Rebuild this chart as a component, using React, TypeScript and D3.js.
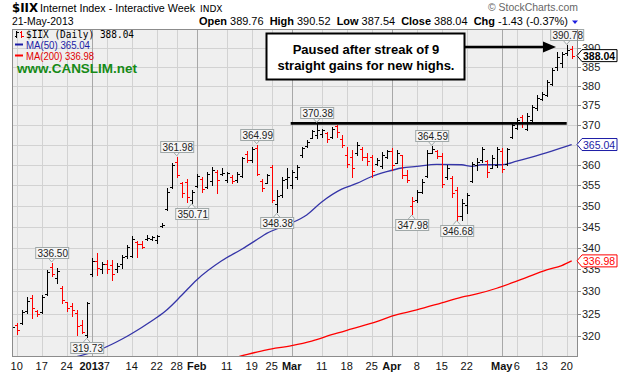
import React from "react";
import * as d3 from "d3";

// trading calendar (weekends and market holidays skipped)
const holidays = ["2012-12-25", "2013-01-01", "2013-01-21", "2013-02-18", "2013-03-29"];
const fmtDay = d3.timeFormat("%Y-%m-%d");
const tradingDays = d3.timeDay
  .range(new Date(2012, 11, 7), new Date(2013, 4, 22))
  .filter((d) => d.getDay() % 6 !== 0)
  .map(fmtDay)
  .filter((k) => !holidays.includes(k));

// $IIX daily OHLC, Dec 7 2012 .. May 21 2013
const opens = [
  320.9, 322.4, 322.9, 325.5, 328.5, 325.6, 325.3, 329.5, 335.5, 333.0, 330.8, 327.5, 326.8, 325.2, 322.5, 320.2,
  334.0, 337.0, 335.2, 336.3, 336.0, 335.0, 336.3, 338.0, 338.2, 341.3, 341.0, 342.0, 342.1, 341.8, 345.1, 349.3, 354.6, 360.8, 355.5, 355.8, 351.3,
  354.9, 356.6, 354.6, 356.0, 358.2, 357.7, 356.2, 357.1, 356.2, 357.3, 362.6, 361.3, 364.2, 356.0, 355.6, 359.5, 350.5, 352.5, 356.5,
  355.0, 357.0, 362.3, 364.7, 366.8, 367.5, 367.6, 368.0, 367.0, 369.6, 366.5, 362.5, 362.0, 362.8, 363.8, 362.0, 362.0, 360.3, 359.6, 362.0,
  363.5, 360.5, 362.3, 357.4, 350.0, 351.4, 353.4, 357.3, 363.0, 363.4, 362.2, 357.0, 356.8, 353.8, 347.6, 350.2, 356.0, 360.0, 361.2, 360.9, 359.3, 360.0,
  363.5, 360.2, 367.0, 369.2, 372.0, 369.0, 371.2, 374.2, 376.6, 377.6, 380.6, 385.0, 386.0, 388.7, 389.76,
];
const highs = [
  322.6, 322.9, 325.8, 328.7, 329.2, 325.9, 329.2, 334.9, 336.5, 335.3, 331.1, 327.7, 327.3, 325.8, 323.6, 327.7,
  337.6, 338.8, 336.8, 337.2, 337.2, 336.5, 338.4, 340.7, 342.7, 341.5, 341.5, 343.1, 342.8, 343.1, 345.8, 354.2, 360.4, 361.98, 355.8, 356.6, 353.8,
  357.8, 357.1, 358.3, 359.5, 358.7, 359.1, 358.2, 357.4, 358.3, 362.0, 363.3, 364.5, 364.99, 356.6, 357.8, 359.9, 353.8, 357.1, 359.1,
  358.7, 359.9, 364.5, 366.2, 368.7, 370.38, 368.9, 368.3, 369.5, 370.0, 367.4, 364.5, 363.7, 365.7, 364.5, 362.8, 362.4, 361.6, 363.2, 363.7,
  364.1, 363.7, 362.4, 358.7, 352.2, 353.8, 356.6, 363.7, 364.59, 363.7, 362.8, 359.9, 357.2, 354.6, 351.6, 353.0, 360.8, 361.6, 364.5, 361.2, 362.4, 364.5,
  364.1, 364.1, 370.8, 371.7, 372.5, 373.0, 375.1, 377.7, 378.4, 381.6, 384.7, 389.1, 389.1, 390.78, 390.52,
];
const lows = [
  320.4, 320.5, 322.7, 325.2, 324.0, 324.4, 325.1, 329.2, 333.4, 331.9, 327.3, 325.5, 324.4, 320.3, 320.7, 319.73,
  333.4, 333.8, 334.1, 334.1, 332.6, 334.5, 335.3, 337.6, 337.9, 337.9, 339.9, 341.9, 341.9, 341.2, 344.9, 349.0, 354.3, 357.0, 352.2, 351.0, 350.71,
  354.6, 353.4, 354.3, 355.0, 353.0, 357.5, 355.8, 355.4, 355.8, 357.0, 360.8, 360.8, 357.4, 353.5, 355.4, 351.0, 348.38, 352.2, 354.2,
  354.2, 356.6, 362.0, 364.5, 366.6, 366.6, 367.0, 365.8, 366.6, 367.0, 364.5, 359.5, 357.0, 362.4, 361.2, 360.0, 357.0, 360.0, 359.1, 361.6,
  358.7, 360.4, 356.7, 355.8, 347.98, 351.0, 353.0, 357.0, 362.9, 361.6, 354.6, 356.6, 352.2, 346.68, 346.7, 348.3, 355.8, 358.7, 360.8, 357.0, 359.1, 359.5,
  358.3, 360.0, 366.6, 368.9, 369.5, 368.7, 370.8, 373.8, 376.4, 377.3, 380.3, 384.2, 385.1, 388.3, 387.54,
];
const closes = [
  322.1, 321.3, 325.4, 327.8, 326.3, 325.0, 328.8, 334.5, 334.0, 334.7, 328.0, 326.3, 325.8, 322.3, 321.0, 327.3,
  336.9, 335.3, 336.2, 335.0, 334.0, 335.8, 337.9, 340.2, 342.2, 340.8, 340.2, 342.4, 342.6, 342.9, 345.5, 353.2, 359.9, 357.5, 353.0, 352.0, 353.2,
  357.3, 354.0, 357.6, 358.8, 356.2, 357.9, 358.0, 356.0, 357.8, 361.6, 361.2, 364.0, 357.8, 354.3, 357.4, 351.5, 352.3, 356.3, 356.9,
  358.3, 359.5, 364.1, 365.8, 368.4, 368.6, 368.8, 366.5, 369.0, 368.2, 365.0, 360.3, 359.3, 364.8, 361.8, 361.0, 358.5, 361.3, 362.5, 363.3,
  360.0, 363.0, 357.5, 356.3, 351.2, 353.3, 355.8, 362.8, 364.0, 362.2, 355.2, 359.3, 353.0, 347.5, 350.7, 352.5, 360.3, 360.8, 363.8, 358.3, 361.6, 363.9,
  359.0, 363.8, 370.1, 371.2, 370.5, 372.2, 374.5, 377.0, 378.0, 381.0, 384.2, 387.8, 388.6, 389.47, 388.04,
];

// moving averages
const ma50Days = [
  "2012-12-07", "2012-12-18", "2012-12-27", "2012-12-31", "2013-01-04", "2013-01-10", "2013-01-16", "2013-01-22",
  "2013-01-24", "2013-01-29", "2013-02-01", "2013-02-08", "2013-02-14", "2013-02-20", "2013-02-22", "2013-02-28",
  "2013-03-06", "2013-03-11", "2013-03-15", "2013-03-20", "2013-03-25", "2013-03-28", "2013-04-03", "2013-04-08",
  "2013-04-12", "2013-04-19", "2013-04-23", "2013-04-25", "2013-05-01", "2013-05-06", "2013-05-09", "2013-05-15", "2013-05-21",
];
const ma50 = [
  312.9, 314.3, 315.5, 316.1, 317.2, 319.3, 321.9, 324.1, 325.8, 329.1, 332.6, 337.0, 339.7, 341.9, 343.4, 345.4,
  347.8, 350.9, 354.0, 355.4, 357.1, 358.3, 359.2, 359.6, 360.1, 360.0, 359.6, 360.0, 360.0, 360.9, 361.9, 363.4, 365.04,
];
const ma200Days = [
  "2013-01-31", "2013-02-13", "2013-02-22", "2013-03-01", "2013-03-07", "2013-03-13", "2013-03-19", "2013-03-26",
  "2013-04-01", "2013-04-08", "2013-04-15", "2013-04-19", "2013-04-24", "2013-04-30", "2013-05-03", "2013-05-08",
  "2013-05-14", "2013-05-17", "2013-05-21",
];
const ma200 = [
  313.1, 315.4, 317.0, 317.9, 318.9, 320.3, 321.6, 323.2, 324.4, 325.8, 327.4, 328.7, 329.4, 330.7, 331.9, 333.2,
  334.9, 335.9, 336.98,
];

// x axis
const tickDays = [
  "2012-12-10", "2012-12-17", "2012-12-24", "2013-01-02", "2013-01-07", "2013-01-14", "2013-01-22", "2013-01-28",
  "2013-02-01", "2013-02-11", "2013-02-19", "2013-02-25", "2013-03-01", "2013-03-11", "2013-03-18", "2013-03-25",
  "2013-04-01", "2013-04-08", "2013-04-15", "2013-04-22", "2013-05-01", "2013-05-06", "2013-05-13", "2013-05-20",
];
const tickLabels = ["10", "17", "24", "2013", "7", "14", "22", "28", "Feb", "11", "19", "25", "Mar", "11", "18", "25", "Apr", "8", "15", "22", "May", "6", "13", "20"];
const monthStarts = ["2013-01-02", "2013-02-01", "2013-03-01", "2013-04-01", "2013-05-01"];
const priceTicks = [320, 325, 330, 335, 340, 345, 350, 355, 360, 365, 370, 375, 380, 385, 390];

// high / low callouts
const calloutDays = ["2012-12-19", "2012-12-31", "2013-01-28", "2013-01-31", "2013-02-20", "2013-02-26", "2013-03-08", "2013-04-05", "2013-04-11", "2013-04-18", "2013-05-20"];
const calloutSide = ["high", "low", "high", "low", "high", "low", "high", "low", "high", "low", "high"];

const resistance = 370.38;
const resistanceFrom = "2013-03-01";
const resistanceTo = "2013-05-20";
const noteLines = ["Paused after streak of 9", "straight gains for new highs."];

const SANS = "'Liberation Sans', Arial, sans-serif";
const VERD = "'DejaVu Sans', Verdana, sans-serif";
const MONO = "'DejaVu Sans Mono', monospace";
const BLUE = "#1c1ca6";
const RED = "#ff0000";

const plot = { left: 12, right: 578, top: 29.3, bottom: 356.7 };

export default function App() {
  const x = d3.scalePoint<string>().domain(tradingDays).range([11.7, 571.7]);
  const y = d3.scaleLog().domain([315.5, 395.13]).range([plot.bottom, plot.top]);
  const px = (k: string) => Math.round(x(k)!) + 0.5;
  const py = (v: number) => Math.round(y(v)) + 0.5;
  const f2 = (v: number) => v.toFixed(2);

  const n = closes.length;
  const last = n - 1;
  const chg = closes[last] - closes[last - 1];
  const pct = (chg / closes[last - 1]) * 100;
  const ma50Last = ma50[ma50.length - 1];
  const ma200Last = ma200[ma200.length - 1];

  const maLine = d3
    .line<[string, number]>()
    .x((d) => x(d[0])!)
    .y((d) => y(d[1]))
    .curve(d3.curveMonotoneX);

  const tag = (v: number, color: string, bold: boolean) => {
    const cy = y(v);
    return (
      <g key={color}>
        <path
          d={`M577,${cy} L582,${cy - 6} L617,${cy - 6} L617,${cy + 6} L582,${cy + 6} Z`}
          fill="#fff"
          stroke={color}
        />
        <text x={583} y={cy + 4} fontSize={10.5} fontWeight={bold ? "bold" : "normal"} fill={bold ? "#000" : color} fontFamily={SANS}>
          {f2(v)}
        </text>
      </g>
    );
  };

  // axis labels hidden under a value tag are not drawn (as on the original)
  const axisLabels = priceTicks.filter((v) => Math.abs(y(v) - y(ma50Last)) > 3);

  const stats: [string, string][] = [
    ["Open", f2(opens[last])],
    ["High", f2(highs[last])],
    ["Low", f2(lows[last])],
    ["Close", f2(closes[last])],
    ["Chg", `${chg.toFixed(2)} (${pct.toFixed(2)}%)`],
  ];

  return (
    <svg width={620} height={374} style={{ position: "absolute", left: 0, top: 0, background: "#fff" }} fontFamily={SANS}>
      <defs>
        <clipPath id="plotClip">
          <rect x={plot.left} y={plot.top} width={plot.right - plot.left} height={plot.bottom - plot.top} />
        </clipPath>
      </defs>

      {/* header */}
      <text x={12} y={12} fontFamily={VERD} fontWeight="bold" fontSize={12} textLength={26} lengthAdjust="spacingAndGlyphs">$IIX</text>
      <text x={40} y={12} fontSize={11} textLength={155} lengthAdjust="spacingAndGlyphs">Internet Index - Interactive Week</text>
      <text x={200} y={12} fontFamily={VERD} fontSize={9} textLength={22.5} lengthAdjust="spacingAndGlyphs">INDX</text>
      <text x={488} y={11} fontSize={10.5} fill="#666" textLength={90} lengthAdjust="spacingAndGlyphs">© StockCharts.com</text>
      <text x={12} y={24.5} fontSize={10.5} textLength={61.5} lengthAdjust="spacingAndGlyphs">21-May-2013</text>
      <text x={199} y={24.5} fontSize={11} style={{ whiteSpace: "pre" }} textLength={369} lengthAdjust="spacingAndGlyphs">
        {stats.map(([k, v], i) => (
          <tspan key={k}>
            <tspan fontWeight="bold">{k}</tspan>
            {" " + v + (i < stats.length - 1 ? "  " : "")}
          </tspan>
        ))}
      </text>
      <path d="M572,20.5 L578,20.5 L575,24 Z" fill="#2020e0" />

      {/* plot background and grid */}
      <rect x={plot.left} y={plot.top} width={plot.right - plot.left} height={plot.bottom - plot.top} fill="#efefef" />
      {priceTicks.map((v) => (
        <line key={v} x1={plot.left} x2={plot.right} y1={py(v)} y2={py(v)} stroke="#d2d2d2" shapeRendering="crispEdges" />
      ))}
      {tickDays.map((k) => (
        <line
          key={k}
          x1={px(k)}
          x2={px(k)}
          y1={plot.top}
          y2={plot.bottom}
          stroke={monthStarts.includes(k) ? "#a8a8a8" : "#d2d2d2"}
          shapeRendering="crispEdges"
        />
      ))}

      <g clipPath="url(#plotClip)">
        {/* moving averages */}
        <path d={maLine(ma200Days.map((k, i) => [k, ma200[i]] as [string, number]))!} fill="none" stroke={RED} strokeWidth={1.3} />
        <path d={maLine(ma50Days.map((k, i) => [k, ma50[i]] as [string, number]))!} fill="none" stroke="#3535a8" strokeWidth={1.3} />

        {/* OHLC bars */}
        <g shapeRendering="crispEdges">
          {tradingDays.map((k, i) => {
            const cx = px(k);
            const up = i === 0 || closes[i] >= closes[i - 1];
            const c = up ? "#000" : RED;
            return (
              <g key={k} stroke={c}>
                <line x1={cx} x2={cx} y1={Math.round(y(highs[i]))} y2={Math.round(y(lows[i])) + 1} />
                <line x1={cx - 2.5} x2={cx} y1={py(opens[i])} y2={py(opens[i])} />
                <line x1={cx} x2={cx + 2.5} y1={py(closes[i])} y2={py(closes[i])} />
              </g>
            );
          })}
        </g>

        {/* resistance line */}
        <line
          x1={x(resistanceFrom)! - 1}
          x2={x(resistanceTo)}
          y1={y(resistance)}
          y2={y(resistance)}
          stroke="#000"
          strokeWidth={2.6}
        />
      </g>

      {/* legend */}
      <g shapeRendering="crispEdges">
        <line x1={16.5} x2={16.5} y1={31} y2={38} stroke="#000" />
        <line x1={14.5} x2={16.5} y1={36.5} y2={36.5} stroke="#000" />
        <line x1={16.5} x2={18.5} y1={32.5} y2={32.5} stroke="#000" />
        <line x1={21.5} x2={21.5} y1={31} y2={38} stroke={RED} />
        <line x1={19.5} x2={21.5} y1={32.5} y2={32.5} stroke={RED} />
        <line x1={21.5} x2={23.5} y1={36.5} y2={36.5} stroke={RED} />
      </g>
      <text x={26} y={37.5} fontFamily={MONO} fontSize={9.6} textLength={108} lengthAdjust="spacingAndGlyphs">{`$IIX (Daily) ${f2(closes[last])}`}</text>
      <line x1={15} x2={23} y1={44.5} y2={44.5} stroke={BLUE} strokeWidth={2} />
      <text x={26} y={48.7} fontSize={10} fill={BLUE} textLength={64} lengthAdjust="spacingAndGlyphs">{`MA(50) ${f2(ma50Last)}`}</text>
      <line x1={15} x2={23} y1={55.5} y2={55.5} stroke={RED} strokeWidth={2} />
      <text x={26} y={59.7} fontSize={10} fill="#e00000" textLength={68} lengthAdjust="spacingAndGlyphs">{`MA(200) ${f2(ma200Last)}`}</text>
      <text x={17} y={72.5} fontSize={13.5} fontWeight="bold" fill="#168a16" textLength={120} lengthAdjust="spacingAndGlyphs">www.CANSLIM.net</text>

      {/* callouts */}
      {calloutDays.map((k, j) => {
        const i = tradingDays.indexOf(k);
        const isHigh = calloutSide[j] === "high";
        const v = isHigh ? highs[i] : lows[i];
        const cx = x(k)!;
        const vy = y(v);
        const w = 33;
        const h = 11;
        const top = isHigh ? vy - 5 - h : vy + 5;
        const edge = isHigh ? top + h : top;
        const tip = isHigh ? vy - 1 : vy + 1;
        return (
          <g key={k}>
            <path d={`M${cx - 3.5},${edge} L${cx},${tip} L${cx + 3.5},${edge}`} fill="#f6f6f6" stroke="#a0a8a8" />
            <rect x={cx - w / 2 + 0.5} y={Math.round(top) + 0.5} width={w} height={h} fill="#f6f6f6" stroke="#a0a8a8" />
            <text x={cx + 1} y={Math.round(top) + 9.5} textAnchor="middle" fontSize={10} fill="#222">{f2(v)}</text>
          </g>
        );
      })}

      {/* note box with arrow */}
      <rect x={266.5} y={33.5} width={198} height={46} fill="#fff" stroke="#000" strokeWidth={2} />
      {noteLines.map((t, i) => (
        <text key={t} x={366} y={54 + i * 15.5} textAnchor="middle" fontSize={13} fontWeight="bold">{t}</text>
      ))}
      <line x1={465} x2={546} y1={47} y2={47} stroke="#000" strokeWidth={2.5} />
      <path d="M543,41.5 L556,47 L543,52.5 Z" fill="#000" />

      {/* frame */}
      <rect
        x={plot.left + 0.5}
        y={plot.top + 0.5}
        width={plot.right - plot.left - 1}
        height={plot.bottom - plot.top - 1}
        fill="none"
        stroke="#8c8c8c"
        shapeRendering="crispEdges"
      />

      {/* right axis */}
      {priceTicks.map((v) => (
        <line key={v} x1={plot.right} x2={plot.right + 3} y1={py(v)} y2={py(v)} stroke="#8c8c8c" shapeRendering="crispEdges" />
      ))}
      {axisLabels.map((v) => (
        <text key={v} x={582} y={y(v) + 4} fontSize={11} fill="#222">{v}</text>
      ))}
      {tag(ma200Last, RED, false)}
      {tag(ma50Last, BLUE, false)}
      {tag(closes[last], "#000", true)}

      {/* bottom axis */}
      {tickDays.map((k, i) => (
        <text
          key={k}
          x={x(k)}
          y={369.5}
          textAnchor="middle"
          fontSize={11}
          fontWeight={monthStarts.includes(k) ? "bold" : "normal"}
          fill="#111"
        >
          {tickLabels[i]}
        </text>
      ))}
    </svg>
  );
}
